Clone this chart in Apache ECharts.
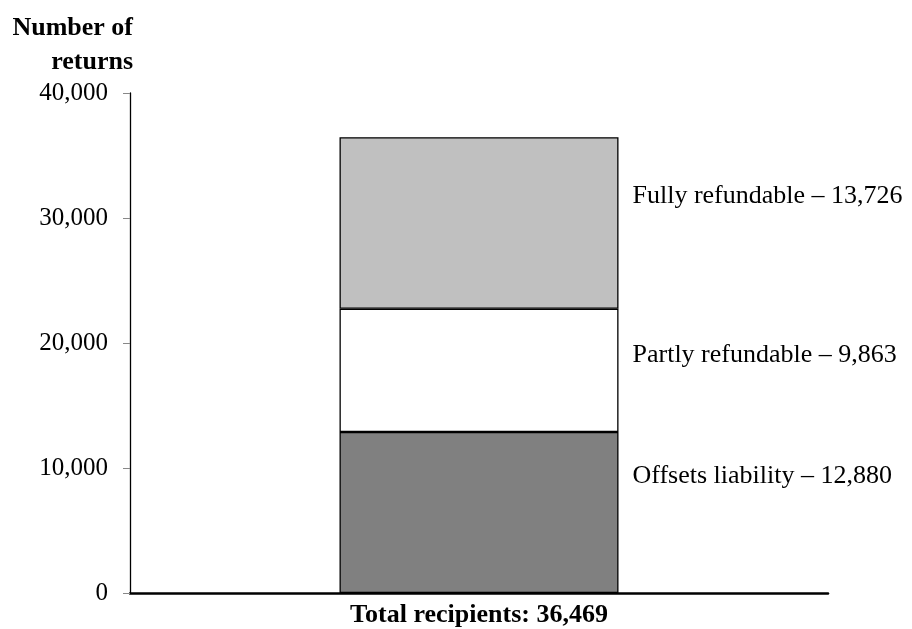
<!DOCTYPE html>
<html>
<head>
<meta charset="utf-8">
<script src="https://cdn.jsdelivr.net/npm/echarts@6/dist/echarts.min.js"></script>
<style>
html,body{margin:0;padding:0;background:#fff;}
#chart{width:912px;height:629px;}
</style>
</head>
<body>
<div id="chart"></div>
<script>
const categories = ['Total recipients: 36,469'];
const seriesNames = ['Offsets liability', 'Partly refundable', 'Fully refundable'];
const offsetsValues = [12880];
const partlyValues = [9863];
const fullyValues = [13726];
const seriesColors = ['#808080', '#ffffff', '#c0c0c0'];
const labelOffsets = [-36, -15, -27];
const yTicks = [0, 10000, 20000, 30000, 40000];

const FONT = '"Liberation Serif", "Times New Roman", serif';
const fmt = v => v.toLocaleString('en-US');
const allValues = [offsetsValues, partlyValues, fullyValues];

const chart = echarts.init(document.getElementById('chart'));
chart.setOption({
  animation: false,
  backgroundColor: '#fff',
  grid: { left: 130, right: 84, top: 93, bottom: 36 },
  graphic: [{
    type: 'text',
    x: 133,
    y: 11,
    style: {
      text: 'Number of\nreturns',
      fontFamily: FONT,
      fontSize: 26,
      fontWeight: 'bold',
      lineHeight: 34,
      align: 'right',
      verticalAlign: 'top',
      fill: '#000'
    }
  }],
  xAxis: {
    type: 'category',
    data: categories,
    axisLine: { lineStyle: { color: '#000', width: 2.5 } },
    axisTick: { show: false },
    axisLabel: {
      color: '#000',
      fontFamily: FONT,
      fontSize: 26,
      fontWeight: 'bold',
      margin: 9
    }
  },
  yAxis: {
    type: 'value',
    min: yTicks[0],
    max: yTicks[yTicks.length - 1],
    interval: yTicks[1] - yTicks[0],
    axisLine: { show: true, lineStyle: { color: '#000', width: 1.3 } },
    axisTick: { show: true, length: 7, lineStyle: { color: '#888', width: 1 } },
    splitLine: { show: false },
    axisLabel: {
      color: '#000',
      fontFamily: FONT,
      fontSize: 25,
      margin: 22,
      formatter: v => fmt(v)
    }
  },
  series: seriesNames.map((name, i) => ({
    name: name,
    type: 'bar',
    stack: 'total',
    barWidth: 279,
    data: allValues[i],
    itemStyle: { color: seriesColors[i], borderColor: '#000', borderWidth: 1.3 },
    label: {
      show: true,
      position: 'right',
      distance: 14,
      offset: [0, labelOffsets[i]],
      color: '#000',
      fontFamily: FONT,
      fontSize: 26,
      formatter: p => name + ' – ' + fmt(p.value)
    }
  }))
});
</script>
</body>
</html>
